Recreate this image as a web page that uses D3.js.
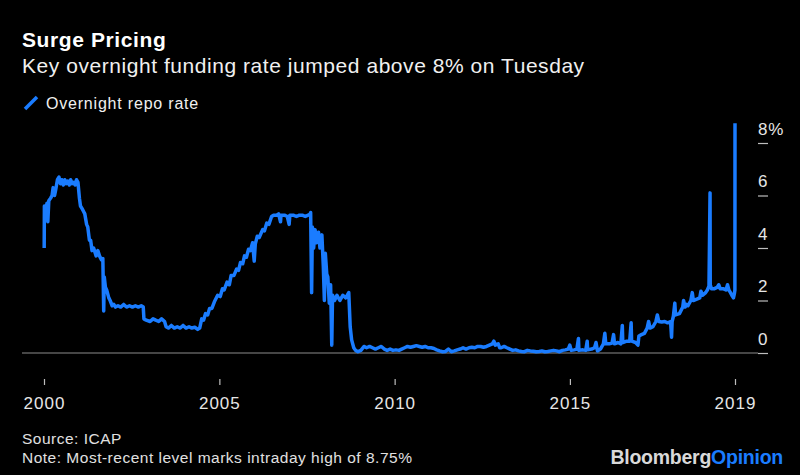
<!DOCTYPE html>
<html>
<head>
<meta charset="utf-8">
<script src="https://cdn.jsdelivr.net/npm/d3@7"></script>
<style>
  html, body { margin: 0; padding: 0; background: #000; }
  svg { display: block; font-family: "Liberation Sans", Arial, sans-serif; }
</style>
</head>
<body>
<figure style="margin:0"></figure>
<script>
// overnight repo rate
const dates = [
  "2000-01-03","2000-01-05","2000-01-20","2000-02-01","2000-02-10","2000-02-20","2000-03-10","2000-03-25",
  "2000-04-05","2000-04-20","2000-05-01","2000-05-20","2000-06-05","2000-06-20","2000-07-05","2000-07-20",
  "2000-08-05","2000-08-20","2000-09-05","2000-09-20","2000-10-05","2000-10-20","2000-11-05","2000-11-20",
  "2000-12-05","2000-12-20",
  "2001-01-04","2001-01-15","2001-02-01","2001-02-15","2001-03-01","2001-03-20","2001-04-01","2001-04-18",
  "2001-05-01","2001-05-15","2001-06-01","2001-06-27","2001-07-15","2001-08-01","2001-08-21","2001-09-05",
  "2001-09-14","2001-09-20","2001-10-02","2001-10-15","2001-11-06","2001-11-20","2001-12-11","2001-12-28",
  "2002-01-15","2002-02-10","2002-03-10","2002-04-10","2002-05-10","2002-06-10","2002-07-10","2002-08-10",
  "2002-09-10","2002-10-10","2002-10-31","2002-11-07","2002-12-01",
  "2003-01-10","2003-02-10","2003-03-10","2003-04-10","2003-05-10","2003-06-10","2003-06-26","2003-07-20",
  "2003-08-20","2003-09-20","2003-10-20","2003-11-20","2003-12-20",
  "2004-01-20","2004-02-20","2004-03-20","2004-04-20","2004-05-20","2004-06-10","2004-07-01","2004-07-20",
  "2004-08-10","2004-09-01","2004-09-21","2004-10-15","2004-11-10","2004-12-14",
  "2005-01-10","2005-02-02","2005-02-20","2005-03-22","2005-04-15","2005-05-03","2005-06-01","2005-06-30",
  "2005-07-20","2005-08-09","2005-09-01","2005-09-20","2005-10-10","2005-11-01","2005-11-20","2005-12-13",
  "2005-12-30","2006-01-10","2006-01-31","2006-02-20","2006-03-28","2006-04-15","2006-05-10","2006-06-01",
  "2006-06-29","2006-07-20","2006-08-20","2006-09-10","2006-09-30","2006-10-05","2006-11-10","2006-12-10",
  "2006-12-29","2007-01-05","2007-02-10","2007-03-15","2007-04-15","2007-05-15","2007-06-15","2007-07-15",
  "2007-08-08","2007-08-10","2007-08-20","2007-08-28","2007-09-10","2007-09-25","2007-10-10","2007-10-31",
  "2007-11-15","2007-12-05","2007-12-20","2007-12-31","2008-01-10","2008-01-25","2008-02-05","2008-02-20",
  "2008-03-05","2008-03-17","2008-03-25","2008-04-15","2008-05-10","2008-06-10","2008-07-10","2008-08-10",
  "2008-09-10","2008-09-25","2008-10-10","2008-11-01","2008-11-20","2008-12-15",
  "2009-01-15","2009-02-15","2009-03-15","2009-04-15","2009-05-15","2009-06-15","2009-07-15","2009-08-15",
  "2009-09-15","2009-10-15","2009-11-15","2009-12-15",
  "2010-01-15","2010-02-15","2010-03-15","2010-04-15","2010-05-15","2010-06-15","2010-07-15","2010-08-15",
  "2010-09-15","2010-10-15","2010-11-15","2010-12-15",
  "2011-01-15","2011-02-15","2011-03-15","2011-04-15","2011-05-15","2011-06-15","2011-07-15","2011-08-15",
  "2011-09-15","2011-10-15","2011-11-15","2011-12-15",
  "2012-01-15","2012-02-15","2012-03-15","2012-04-15","2012-05-15","2012-06-15","2012-07-15","2012-08-15",
  "2012-09-15","2012-10-15","2012-10-31","2012-11-15","2012-12-15","2012-12-31",
  "2013-01-15","2013-02-15","2013-03-15","2013-04-15","2013-05-15","2013-06-15","2013-07-15","2013-08-15",
  "2013-09-15","2013-10-15","2013-11-15","2013-12-15",
  "2014-01-15","2014-02-15","2014-03-15","2014-04-15","2014-05-15","2014-06-15","2014-07-15","2014-08-15",
  "2014-09-15","2014-10-15","2014-11-15","2014-12-15","2014-12-31",
  "2015-01-15","2015-02-15","2015-03-15","2015-03-31","2015-04-05","2015-05-15","2015-06-15","2015-06-30",
  "2015-07-05","2015-08-15","2015-09-15","2015-09-30","2015-10-15","2015-11-15","2015-12-16","2015-12-31",
  "2016-01-10","2016-02-15","2016-03-15","2016-03-31","2016-04-10","2016-05-15","2016-06-15","2016-06-30",
  "2016-07-05","2016-08-15","2016-09-15","2016-09-30","2016-10-05","2016-11-15","2016-12-10","2016-12-20",
  "2017-01-15","2017-02-15","2017-03-16","2017-03-31","2017-04-15","2017-05-15","2017-06-15","2017-06-30",
  "2017-07-15","2017-08-15","2017-09-15","2017-10-15","2017-11-15","2017-11-25","2017-12-01","2017-12-14",
  "2017-12-29","2018-01-05","2018-02-15","2018-03-22","2018-03-30","2018-04-15","2018-04-30","2018-05-15",
  "2018-06-14","2018-06-29","2018-07-10","2018-08-15","2018-09-15","2018-09-27","2018-10-15","2018-11-15",
  "2018-12-03","2018-12-20","2018-12-31","2019-01-02","2019-01-15","2019-02-15","2019-03-15","2019-04-01",
  "2019-04-15","2019-05-15","2019-06-15","2019-07-01","2019-07-15","2019-08-01","2019-08-15","2019-09-01",
  "2019-09-10","2019-09-16","2019-09-17"
];
const rates = [
  4.0,5.6,5.4,5.7,5.0,5.8,5.9,6.0,
  6.3,6.0,6.2,6.6,6.7,6.45,6.6,6.4,
  6.6,6.45,6.55,6.4,6.6,6.45,6.5,6.4,
  6.6,6.5,
  5.9,5.6,5.5,5.4,5.3,4.9,4.8,4.3,
  4.3,3.9,4.0,3.7,3.9,3.7,3.55,3.6,
  1.6,2.9,2.5,2.4,2.1,2.0,1.8,1.85,
  1.75,1.8,1.75,1.85,1.75,1.8,1.75,1.8,
  1.75,1.8,1.75,1.3,1.25,
  1.2,1.3,1.25,1.2,1.3,1.2,1.0,0.95,
  1.05,0.95,1.0,0.95,1.05,
  0.95,1.0,0.95,0.98,0.9,0.95,1.3,1.25,
  1.5,1.45,1.7,1.7,1.95,2.2,
  2.15,2.45,2.4,2.7,2.6,2.95,2.95,3.2,
  3.15,3.45,3.4,3.7,3.65,3.95,3.9,4.2,
  3.5,4.15,4.45,4.4,4.7,4.65,4.95,4.9,
  5.2,5.25,5.25,5.3,5.0,5.25,5.25,5.2,
  4.9,5.25,5.25,5.2,5.25,5.25,5.2,5.25,
  5.3,5.35,2.3,4.8,4.0,4.7,4.2,4.6,
  4.0,4.5,3.3,2.0,3.8,3.0,2.9,1.9,
  2.6,0.3,2.2,2.0,2.2,2.0,2.2,2.1,
  2.3,1.0,0.5,0.2,0.1,0.05,
  0.1,0.25,0.2,0.25,0.2,0.15,0.2,0.25,
  0.15,0.1,0.15,0.1,
  0.12,0.1,0.15,0.2,0.25,0.22,0.25,0.28,
  0.25,0.22,0.25,0.2,
  0.2,0.17,0.12,0.08,0.05,0.06,0.15,0.05,
  0.08,0.12,0.15,0.2,
  0.15,0.2,0.22,0.2,0.25,0.25,0.22,0.25,
  0.3,0.35,0.45,0.3,0.35,0.2,
  0.2,0.25,0.2,0.15,0.1,0.12,0.08,0.06,
  0.05,0.1,0.08,0.07,
  0.05,0.06,0.08,0.05,0.06,0.08,0.1,0.08,
  0.05,0.1,0.12,0.15,0.3,
  0.1,0.12,0.15,0.55,0.1,0.12,0.1,0.45,
  0.12,0.15,0.2,0.4,0.08,0.15,0.35,0.75,
  0.35,0.35,0.38,0.7,0.35,0.4,0.35,1.05,
  0.4,0.45,0.45,1.15,0.45,0.4,0.3,0.65,
  0.7,0.75,0.95,1.2,0.95,1.0,1.2,1.45,
  1.2,1.18,1.2,1.15,1.2,0.6,1.2,1.4,
  1.9,1.45,1.5,1.75,2.0,1.75,1.85,1.8,
  2.0,2.3,2.0,2.05,2.1,2.35,2.2,2.3,
  2.4,2.55,6.1,2.6,2.45,2.45,2.5,2.6,
  2.45,2.45,2.4,2.6,2.4,2.3,2.2,2.1,
  2.25,2.4,8.75
];

const xTickDates = ["2000-01-01","2005-01-01","2010-01-01","2015-01-01","2019-09-17"];
const xTickLabels = ["2000","2005","2010","2015","2019"];
const yTicks = [0, 2, 4, 6, 8];

const parse = d3.timeParse("%Y-%m-%d");
const series = dates.map((d, i) => ({date: parse(d), value: rates[i]}));

const width = 800, height = 475;
const blue = "#1a7cff";
const FONT = '"Liberation Sans", Arial, sans-serif';

const svg = d3.select('figure')
    .append('svg')
    .attr('width', width)
    .attr('height', height)
    .style('background', '#000');

const x = d3.scaleTime()
    .domain([parse("2000-01-01"), parse("2019-09-17")])
    .range([44, 735]);

const y = d3.scaleLinear()
    .domain([0, 8])
    .range([353, 143]);

// zero baseline
svg.append('line')
    .attr('x1', 22).attr('x2', 758)
    .attr('y1', y(0)).attr('y2', y(0))
    .attr('stroke', '#8c8c8c')
    .attr('stroke-width', 1.2);

// right axis: short tick, label sitting above it
const yAxis = svg.append('g')
    .attr('transform', 'translate(758,0)')
    .call(d3.axisRight(y).tickValues(yTicks).tickSize(10).tickFormat(d => d === 8 ? '8%' : d));
yAxis.select('.domain').remove();
yAxis.selectAll('line').attr('stroke', '#bdbdbd').attr('stroke-width', 1.2);
yAxis.selectAll('text')
    .attr('x', 0)
    .attr('dy', 0)
    .attr('y', -9)
    .attr('fill', '#e6e6e6')
    .style('font-size', '17px')
    .style('letter-spacing', '0.8px')
    .style('font-family', FONT);

// bottom axis
const xAxis = svg.append('g')
    .attr('transform', 'translate(0,379)')
    .call(d3.axisBottom(x)
        .tickValues(xTickDates.map(parse))
        .tickSize(6)
        .tickFormat((d, i) => xTickLabels[i]));
xAxis.select('.domain').remove();
xAxis.selectAll('line').attr('stroke', '#bdbdbd').attr('stroke-width', 1.2);
xAxis.selectAll('text')
    .attr('y', 30)
    .attr('dy', 0)
    .attr('fill', '#e6e6e6')
    .style('font-size', '17px')
    .style('letter-spacing', '1px')
    .style('font-family', FONT);

// the repo line
const line = d3.line()
    .x(d => x(d.date))
    .y(d => y(d.value));

svg.append('path')
    .datum(series)
    .attr('fill', 'none')
    .attr('stroke', blue)
    .attr('stroke-width', 3.5)
    .attr('stroke-linejoin', 'round')
    .attr('d', line);

// titles
svg.append('text')
    .attr('x', 22).attr('y', 47)
    .attr('fill', '#fff')
    .style('font-size', '21px')
    .style('font-weight', 'bold')
    .style('letter-spacing', '0.6px')
    .text('Surge Pricing');

svg.append('text')
    .attr('x', 22).attr('y', 73)
    .attr('fill', '#f0f0f0')
    .style('font-size', '21px')
    .style('letter-spacing', '0.55px')
    .text('Key overnight funding rate jumped above 8% on Tuesday');

// legend
svg.append('line')
    .attr('x1', 25).attr('y1', 109)
    .attr('x2', 37).attr('y2', 97)
    .attr('stroke', blue)
    .attr('stroke-width', 3.5);

svg.append('text')
    .attr('x', 46).attr('y', 109)
    .attr('fill', '#f0f0f0')
    .style('font-size', '16px')
    .style('letter-spacing', '0.8px')
    .text('Overnight repo rate');

// footer
svg.append('text')
    .attr('x', 22).attr('y', 444)
    .attr('fill', '#e0e0e0')
    .style('font-size', '15.5px')
    .style('letter-spacing', '0.5px')
    .text('Source: ICAP');

svg.append('text')
    .attr('x', 22).attr('y', 463)
    .attr('fill', '#e0e0e0')
    .style('font-size', '15.5px')
    .style('letter-spacing', '0.5px')
    .text('Note: Most-recent level marks intraday high of 8.75%');

const logo = svg.append('text')
    .attr('x', 783).attr('y', 464)
    .attr('text-anchor', 'end')
    .style('font-size', '19.5px')
    .style('font-weight', 'bold')
    .style('letter-spacing', '-0.25px');
logo.append('tspan').attr('fill', '#d9d9d9').text('Bloomberg');
logo.append('tspan').attr('fill', blue).text('Opinion');
</script>
</body>
</html>
